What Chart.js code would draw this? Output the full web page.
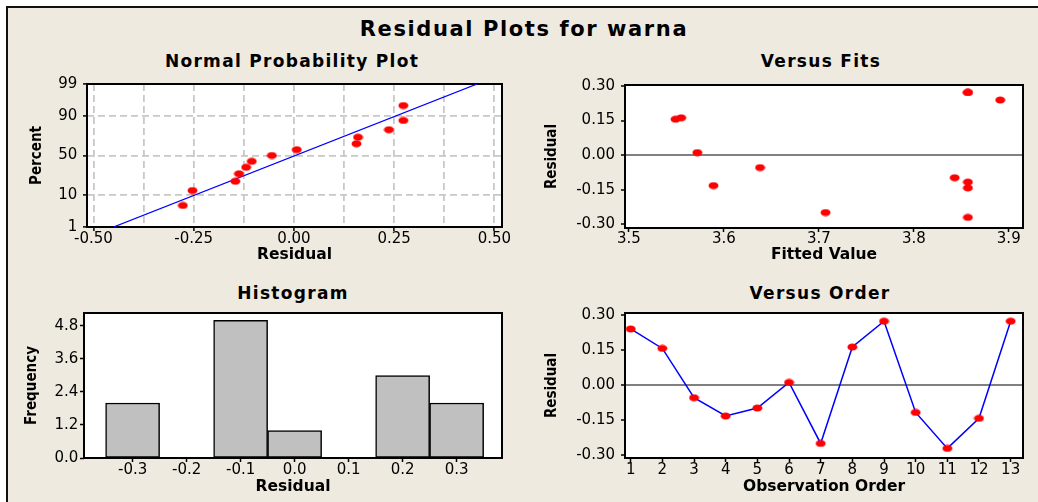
<!DOCTYPE html>
<html>
<head>
<meta charset="utf-8">
<title>Residual Plots for warna</title>
<script src="https://cdn.jsdelivr.net/npm/chart.js@4.4.1/dist/chart.umd.min.js"></script>
<style>
  html, body { margin: 0; padding: 0; width: 1038px; height: 502px; overflow: hidden; background: #fff; }
  #frame { position: absolute; left: 6px; top: 6px; width: 1040px; height: 500px; background: #eeeae0;
           border-left: 2px solid #111; border-top: 2px solid #111; }
  .title { position: absolute; text-align: center; color: #000; font-family: "DejaVu Sans", Verdana, sans-serif; font-weight: bold; white-space: nowrap; }
  #mainTitle { left: 224px; top: 17px; width: 600px; font-size: 21px; line-height: 25px; letter-spacing: 1.6px; }
  .sub { width: 300px; font-size: 17px; line-height: 20px; letter-spacing: 1.3px; }
  canvas { position: absolute; }
</style>
</head>
<body>
<div id="frame"></div>
<div id="mainTitle" class="title">Residual Plots for warna</div>
<div class="title sub" style="left:142px; top:51px;">Normal Probability Plot</div>
<div class="title sub" style="left:671px; top:51px;">Versus Fits</div>
<div class="title sub" style="left:143px; top:283px;">Histogram</div>
<div class="title sub" style="left:670px; top:283px;">Versus Order</div>
<canvas id="normChart"></canvas>
<canvas id="fitsChart"></canvas>
<canvas id="histChart"></canvas>
<canvas id="orderChart"></canvas>
<script>
// --- values ---
const obsOrder = [1, 2, 3, 4, 5, 6, 7, 8, 9, 10, 11, 12, 13];
const residuals = [0.239, 0.156, -0.054, -0.132, -0.098, 0.011, -0.249, 0.162, 0.272, -0.117, -0.270, -0.142, 0.272];
const fittedValues = [3.891, 3.549, 3.638, 3.589, 3.843, 3.572, 3.707, 3.555, 3.857, 3.857, 3.857, 3.857, 3.857];

// normal probability plot (sorted residuals and their plotting percent)
const normResiduals = [-0.277, -0.253, -0.146, -0.137, -0.119, -0.105, -0.055, 0.007, 0.156, 0.160, 0.237, 0.273, 0.273];
const normPercents = [5.2, 12.7, 20.1, 27.6, 35.1, 42.5, 50.0, 57.5, 64.9, 72.4, 79.9, 87.3, 94.8];
const fitLineResiduals = [-0.450, 0.457];
const fitLinePercents = [1, 99];

// histogram
const histBins = [-0.3, -0.2, -0.1, 0.0, 0.1, 0.2, 0.3];
const histCounts = [2, 0, 5, 1, 0, 3, 2];

// tick values
const percentTicks = [1, 10, 50, 90, 99];
const normXTicks = [-0.5, -0.375, -0.25, -0.125, 0, 0.125, 0.25, 0.375, 0.5];
const fitsXTicks = [3.5, 3.6, 3.7, 3.8, 3.9];
const residTicks = [-0.30, -0.15, 0.00, 0.15, 0.30];
const freqTicks = [0, 1.2, 2.4, 3.6, 4.8];

const FONT = '"DejaVu Sans", Verdana, sans-serif';
const NARROW_FONT = '"DejaVu Sans Condensed", "Liberation Sans Narrow", "DejaVu Sans", sans-serif';
const TICK_SIZE = 15;
const TICK_LEN = 4;
const NONE = 'rgba(0,0,0,0)';

// inverse normal cdf (Acklam) for the probability axis
function probit(p) {
    const a = [-39.69683028665376, 220.9460984245205, -275.9285104469687, 138.3577518672690, -30.66479806614716, 2.506628277459239];
    const b = [-54.47609879822406, 161.5858368580409, -155.6989798598866, 66.80131188771972, -13.28068155288572];
    const c = [-0.007784894002430293, -0.3223964580411365, -2.400758277161838, -2.549732539343734, 4.374664141464968, 2.938163982698783];
    const d = [0.007784695709041462, 0.3224671290700398, 2.445134137142996, 3.754408661907416];
    const tail = q => (((((c[0] * q + c[1]) * q + c[2]) * q + c[3]) * q + c[4]) * q + c[5]) /
                      ((((d[0] * q + d[1]) * q + d[2]) * q + d[3]) * q + 1);
    if (p < 0.02425) return tail(Math.sqrt(-2 * Math.log(p)));
    if (p > 1 - 0.02425) return -tail(Math.sqrt(-2 * Math.log(1 - p)));
    const q = p - 0.5, r = q * q;
    return (((((a[0] * r + a[1]) * r + a[2]) * r + a[3]) * r + a[4]) * r + a[5]) * q /
           (((((b[0] * r + b[1]) * r + b[2]) * r + b[3]) * r + b[4]) * r + 1);
}

// red oval marker used for every point
const dot = (() => {
    const c = document.createElement('canvas');
    c.width = 11; c.height = 8;
    const x = c.getContext('2d');
    x.fillStyle = '#ff0000';
    x.beginPath();
    x.ellipse(5.5, 4, 5.0, 3.5, 0, 0, Math.PI * 2);
    x.fill();
    return c;
})();

// white plot area with a black box round it
const plotFrame = {
    id: 'plotFrame',
    beforeDraw(chart) {
        const a = chart.chartArea, ctx = chart.ctx;
        ctx.save();
        ctx.fillStyle = '#ffffff';
        ctx.fillRect(a.left, a.top, a.width, a.height);
        ctx.restore();
    },
    beforeDatasetsDraw(chart) {
        const a = chart.chartArea, ctx = chart.ctx;
        ctx.save();
        ctx.strokeStyle = '#000';
        ctx.lineWidth = 2;
        ctx.strokeRect(a.left, a.top, a.width, a.height);
        ctx.restore();
    }
};

// panel geometry in page pixels: canvas box, plot area, and where labels sit
const panels = {
    norm:  { left: 16,  top: 72,  bottom: 268, padRight: 20, area: [87, 84, 502, 227],   xTickGap: 12.5, yTickGap: 9.7, xTitleY: 255, yTitleX: 37 },
    fits:  { left: 535, top: 72,  bottom: 268, padRight: 14, area: [625, 85, 1023, 228], xTickGap: 11.5, yTickGap: 10,  xTitleY: 255, yTitleX: 552 },
    hist:  { left: 16,  top: 300, bottom: 500, padRight: 20, area: [84, 313, 502, 458],  xTickGap: 12.5, yTickGap: 5.7, xTitleY: 487, yTitleX: 32 },
    order: { left: 535, top: 300, bottom: 500, padRight: 14, area: [625, 313, 1023, 458], xTickGap: 12.5, yTickGap: 10, xTitleY: 487, yTitleX: 552 }
};

function placeCanvas(id, g) {
    const c = document.getElementById(id);
    c.width = g.area[2] + g.padRight - g.left;
    c.height = g.bottom - g.top;
    c.style.left = g.left + 'px';
    c.style.top = g.top + 'px';
    c.style.width = c.width + 'px';
    c.style.height = c.height + 'px';
    return c;
}

function axisX(g, o) {
    return {
        type: 'linear', position: 'bottom', min: o.min, max: o.max, bounds: 'data', offset: false,
        afterBuildTicks: s => { s.ticks = o.ticks.map(v => ({ value: v })); },
        afterFit: s => { s.height = g.bottom - g.area[3]; s.paddingLeft = 0; s.paddingRight = 0; },
        // in v4 the grid line dash pattern comes from border.dash
        border: { display: false, dash: o.gridDash || [] },
        grid: {
            offset: false, drawTicks: true, tickLength: TICK_LEN,
            color: o.gridColor || NONE, lineWidth: o.gridWidth || 1,
            tickColor: o.tickColor || '#000', tickWidth: 1.5, tickBorderDash: []
        },
        ticks: {
            autoSkip: false, maxRotation: 0, minRotation: 0, color: '#000',
            padding: g.xTickGap - TICK_LEN - TICK_SIZE / 2,
            font: { family: FONT, size: TICK_SIZE, lineHeight: 1 },
            callback: o.format
        },
        title: {
            display: true, text: o.title, color: '#000',
            font: { family: FONT, size: 15.5, weight: 'bold', lineHeight: 1.2 },
            padding: { top: 0, bottom: g.bottom - g.xTitleY - 15.5 * 0.6 }
        }
    };
}

function axisY(g, o) {
    return {
        type: 'linear', position: 'left', min: o.min, max: o.max, bounds: 'data',
        afterBuildTicks: s => { s.ticks = o.ticks.map(v => ({ value: v })); },
        afterFit: s => { s.width = g.area[0] - g.left; s.paddingTop = 0; s.paddingBottom = 0; },
        border: { display: false, dash: o.gridDash || [] },
        grid: {
            drawTicks: true, tickLength: TICK_LEN,
            color: o.gridColor || NONE, lineWidth: o.gridWidth || 1,
            tickColor: '#000', tickWidth: 1.5, tickBorderDash: []
        },
        ticks: {
            autoSkip: false, color: '#000',
            padding: g.yTickGap - TICK_LEN,
            font: { family: FONT, size: TICK_SIZE, lineHeight: 1 },
            callback: o.format
        },
        title: {
            display: true, text: o.title, color: '#000',
            font: { family: NARROW_FONT, size: 15, weight: 'bold', lineHeight: 1.2 },
            padding: { top: g.yTitleX - g.left - 15 * 0.6, bottom: 0 }
        }
    };
}

function baseOptions(g, x, y) {
    return {
        responsive: false, animation: false, devicePixelRatio: 1, events: [],
        layout: { padding: { left: 0, top: g.area[1] - g.top, right: g.padRight, bottom: 0 } },
        plugins: { legend: { display: false }, tooltip: { enabled: false }, title: { display: false } },
        scales: { x: x, y: y }
    };
}

const onQuarter = v => Math.abs(v * 4 - Math.round(v * 4)) < 1e-9;
const zeroLine = ctx => (Math.abs(ctx.tick.value) < 1e-9 ? '#808080' : NONE);
const dotStyle = { pointStyle: dot, pointRadius: 4, pointHoverRadius: 4 };

// 1. Normal Probability Plot
(() => {
    const g = panels.norm;
    new Chart(placeCanvas('normChart', g), {
        type: 'scatter',
        data: {
            datasets: [
                Object.assign({ data: normResiduals.map((r, i) => ({ x: r, y: probit(normPercents[i] / 100) })) }, dotStyle),
                {
                    data: fitLineResiduals.map((r, i) => ({ x: r, y: probit(fitLinePercents[i] / 100) })),
                    showLine: true, pointRadius: 0, borderColor: '#0000ff', borderWidth: 1.3, fill: false
                }
            ]
        },
        options: baseOptions(g,
            axisX(g, {
                min: -0.516, max: 0.519, ticks: normXTicks, title: 'Residual',
                format: v => (onQuarter(v) ? v.toFixed(2) : ''),
                gridColor: '#c8c8c8', gridWidth: 1.8, gridDash: [7, 4],
                tickColor: ctx => (onQuarter(ctx.tick.value) ? '#000' : NONE)
            }),
            axisY(g, {
                min: probit(0.01), max: probit(0.99), ticks: percentTicks.map(p => probit(p / 100)),
                title: 'Percent', format: (v, i) => String(percentTicks[i]),
                gridColor: '#c8c8c8', gridWidth: 1.8, gridDash: [7, 4]
            })),
        plugins: [plotFrame]
    });
})();

// 2. Versus Fits
(() => {
    const g = panels.fits;
    new Chart(placeCanvas('fitsChart', g), {
        type: 'scatter',
        data: { datasets: [Object.assign({ data: fittedValues.map((f, i) => ({ x: f, y: residuals[i] })) }, dotStyle)] },
        options: baseOptions(g,
            axisX(g, { min: 3.4958, max: 3.915, ticks: fitsXTicks, title: 'Fitted Value', format: v => v.toFixed(1) }),
            axisY(g, { min: -0.316, max: 0.3043, ticks: residTicks, title: 'Residual', format: v => v.toFixed(2),
                       gridColor: zeroLine, gridWidth: 2 })),
        plugins: [plotFrame]
    });
})();

// 3. Histogram
(() => {
    const g = panels.hist;
    new Chart(placeCanvas('histChart', g), {
        type: 'bar',
        data: {
            datasets: [{
                data: histBins.map((b, i) => ({ x: b, y: histCounts[i] })),
                backgroundColor: '#c0c0c0', borderColor: '#000', borderWidth: 1.5,
                barPercentage: 1, categoryPercentage: 1, borderSkipped: false
            }]
        },
        options: baseOptions(g,
            axisX(g, { min: -0.39, max: 0.384, ticks: histBins, title: 'Residual', format: v => v.toFixed(1) }),
            axisY(g, { min: 0, max: 5.27, ticks: freqTicks, title: 'Frequency', format: v => v.toFixed(1) })),
        plugins: [plotFrame]
    });
})();

// 4. Versus Order
(() => {
    const g = panels.order;
    new Chart(placeCanvas('orderChart', g), {
        type: 'scatter',
        data: {
            datasets: [Object.assign({
                data: obsOrder.map((o, i) => ({ x: o, y: residuals[i] })),
                showLine: true, borderColor: '#0000ff', borderWidth: 1.5, tension: 0, fill: false
            }, dotStyle)]
        },
        options: baseOptions(g,
            axisX(g, { min: 0.82, max: 13.39, ticks: obsOrder, title: 'Observation Order', format: v => String(v) }),
            axisY(g, { min: -0.311, max: 0.307, ticks: residTicks, title: 'Residual', format: v => v.toFixed(2),
                       gridColor: zeroLine, gridWidth: 2 })),
        plugins: [plotFrame]
    });
})();
</script>
</body>
</html>
